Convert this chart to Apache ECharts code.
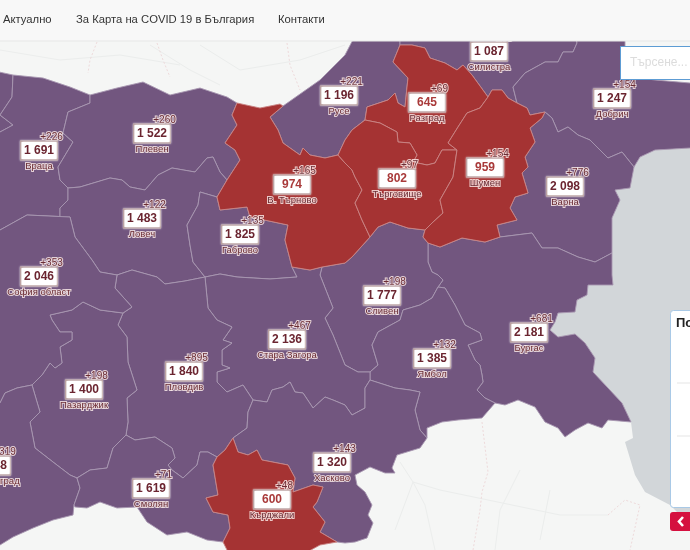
<!DOCTYPE html>
<html><head><meta charset="utf-8">
<style>html,body{margin:0;padding:0;background:#f5f6f5;overflow:hidden}#c{width:690px;height:550px;filter:blur(.45px)}</style>
<script src="https://cdn.jsdelivr.net/npm/echarts@6/dist/echarts.min.js"></script>
</head><body><div id="c"></div>
<script>
// ---- chart values ----
const regionNames = ['Враца','Плевен','Ловеч','Габрово','София област','В. Търново','Русе','Разград','Търговище','Шумен','Силистра','Добрич','Варна','Сливен','Бургас','Ямбол','Стара Загора','Пловдив','Пазарджик','Смолян','Кърджали','Хасково','Благоевград'];
const totals = [1691,1522,1483,1825,2046,974,1196,645,802,959,1087,1247,2098,1777,2181,1385,2136,1840,1400,1619,600,1320,1748];
const increments = [226,260,122,135,353,165,221,69,97,154,103,154,776,198,681,132,467,895,198,71,48,143,319];
// ---- threshold that splits the two map colours ----
const redBelow = 1000;
// ---- label anchors (map units) ----
const labelAnchors = [[39,153],[152,136],[142,221],[240,237],[39,279],[292,187],[339,98],[427,105],[397,181],[485,170],[489,54],[612,101],[565,189],[382,298],[529,335],[432,361],[287,342],[184,374],[84,392],[151,491],[272,502],[332,465],[-8,468]];
// ---- region outlines (map units) ----
const outlines = {
 'Монтана':[[-10,70],[13,75],[12,97],[0,115],[13,125],[0,132],[-10,132]],
 'Враца':[[13,75],[43,78],[70,87],[90,95],[90,103],[68,112],[63,133],[73,142],[58,167],[60,180],[68,188],[68,200],[60,208],[60,217],[70,217],[27,215],[0,230],[-10,232],[-10,132],[0,132],[13,125],[0,115],[12,97]],
 'Плевен':[[90,95],[117,88],[143,82],[170,95],[200,88],[227,97],[237,103],[232,115],[237,125],[225,143],[235,150],[240,160],[227,180],[220,172],[213,157],[207,158],[195,172],[172,168],[158,175],[145,190],[130,187],[122,180],[110,178],[80,187],[68,188],[60,180],[58,167],[73,142],[63,133],[68,112],[90,103]],
 'Ловеч':[[68,188],[80,187],[110,178],[122,180],[130,187],[145,190],[158,175],[172,168],[195,172],[207,158],[213,157],[220,172],[227,180],[217,197],[200,192],[198,205],[187,225],[190,245],[193,262],[205,277],[185,281],[165,284],[157,277],[132,270],[117,275],[100,272],[92,260],[75,237],[70,217],[60,217],[60,208],[68,200]],
 'Габрово':[[217,197],[220,210],[247,207],[250,217],[288,225],[285,240],[292,267],[297,277],[270,279],[237,277],[220,274],[205,277],[193,262],[190,245],[187,225],[198,205],[200,192]],
 'Русе':[[283,106],[320,80],[345,55],[358,30],[400,30],[400,45],[393,62],[408,78],[407,87],[405,107],[398,103],[395,93],[388,100],[367,107],[365,120],[352,130],[345,140],[338,155],[325,158],[310,155],[303,148],[300,155],[283,143],[278,130],[270,117]],
 'Силистра':[[400,45],[400,30],[575,30],[577,43],[573,52],[563,52],[558,62],[545,62],[525,73],[513,87],[517,103],[508,98],[502,90],[492,90],[488,97],[472,75],[463,65],[457,70],[445,63],[430,58],[425,48],[412,45]],
 'Добрич':[[575,30],[625,30],[625,62],[640,78],[655,80],[690,83],[700,84],[700,148],[690,148],[655,150],[640,157],[634,167],[622,152],[608,158],[590,140],[578,135],[568,127],[558,132],[552,118],[545,112],[530,115],[527,108],[517,103],[513,87],[525,73],[545,62],[558,62],[563,52],[573,52],[577,43]],
 'Варна':[[545,112],[552,118],[558,132],[568,127],[578,135],[590,140],[608,158],[622,152],[634,167],[630,188],[615,190],[620,200],[612,218],[612,253],[595,262],[578,257],[558,248],[542,248],[532,233],[500,237],[497,225],[517,220],[510,208],[515,197],[528,193],[522,173],[528,167],[525,157],[535,142],[530,128],[542,118]],
 'Бургас':[[428,243],[440,247],[462,238],[485,242],[500,237],[532,233],[542,248],[558,248],[578,257],[595,262],[612,253],[612,275],[613,285],[588,285],[587,295],[577,300],[575,312],[558,313],[555,322],[550,330],[558,337],[575,334],[585,343],[595,358],[593,372],[608,388],[622,403],[631,422],[608,420],[602,428],[588,423],[575,430],[565,437],[558,428],[545,422],[535,407],[518,400],[505,405],[495,403],[485,398],[477,390],[483,382],[482,375],[480,365],[475,360],[468,345],[482,340],[480,333],[465,325],[455,305],[445,288],[438,287],[443,280],[438,275],[432,272],[428,262]],
 'Сливен':[[322,267],[345,263],[352,257],[370,237],[378,227],[390,222],[408,228],[425,230],[423,237],[428,243],[428,262],[432,272],[438,275],[443,280],[438,287],[432,298],[420,305],[403,310],[400,320],[378,332],[372,345],[378,365],[370,372],[358,372],[345,365],[333,335],[325,318],[333,308],[320,275]],
 'Ямбол':[[370,372],[378,365],[372,345],[378,332],[400,320],[403,310],[420,305],[432,298],[438,287],[445,288],[455,305],[465,325],[480,333],[482,340],[468,345],[475,360],[480,365],[482,375],[483,382],[477,390],[485,398],[495,403],[482,418],[458,420],[442,422],[427,428],[427,438],[420,430],[415,410],[420,392],[410,390],[395,388],[370,380]],
 'Стара Загора':[[205,277],[220,274],[237,277],[270,279],[297,277],[292,267],[310,270],[322,267],[320,275],[333,308],[325,318],[333,335],[345,365],[358,372],[370,372],[370,380],[365,388],[365,408],[352,415],[345,405],[333,400],[325,397],[313,408],[303,393],[295,392],[290,382],[283,387],[272,390],[267,402],[253,400],[243,385],[227,392],[217,382],[217,372],[230,368],[222,365],[222,350],[232,343],[223,340],[232,327],[217,320],[208,308]],
 'Пловдив':[[117,275],[132,270],[157,277],[165,284],[185,281],[205,277],[208,308],[217,320],[232,327],[223,340],[232,343],[222,350],[222,365],[230,368],[217,372],[217,382],[227,392],[243,385],[253,400],[248,412],[247,428],[233,438],[225,450],[217,457],[208,452],[200,452],[197,465],[183,478],[172,470],[168,465],[175,458],[172,448],[155,437],[135,440],[126,435],[128,422],[127,398],[137,390],[128,362],[127,337],[118,325],[123,313],[132,307],[115,288]],
 'Пазарджик':[[123,313],[100,310],[83,302],[72,310],[50,315],[52,320],[60,332],[72,332],[72,340],[60,347],[62,363],[55,368],[50,363],[42,375],[32,385],[37,402],[40,412],[30,422],[35,448],[53,462],[70,475],[77,478],[90,470],[107,468],[113,448],[126,435],[128,422],[127,398],[137,390],[128,362],[127,337],[118,325]],
 'София област':[[-10,232],[0,230],[27,215],[70,217],[75,237],[92,260],[100,272],[117,275],[115,288],[132,307],[123,313],[100,310],[83,302],[72,310],[50,315],[52,320],[60,332],[72,332],[72,340],[60,347],[62,363],[55,368],[50,363],[42,375],[32,385],[17,388],[5,393],[0,403],[-10,410]],
 'Благоевград':[[-10,410],[0,403],[5,393],[17,388],[32,385],[37,402],[40,412],[30,422],[35,448],[53,462],[70,475],[77,478],[80,488],[74,505],[73,515],[53,520],[33,528],[13,537],[0,545],[-10,550]],
 'Смолян':[[77,478],[90,470],[107,468],[113,448],[126,435],[135,440],[155,437],[172,448],[175,458],[168,465],[172,470],[183,478],[197,465],[200,452],[208,452],[217,457],[213,465],[218,495],[206,498],[213,512],[228,515],[230,528],[223,542],[207,540],[187,532],[167,535],[147,522],[137,507],[117,508],[100,502],[87,508],[75,507],[74,505],[80,488]],
 'Хасково':[[253,400],[267,402],[272,390],[283,387],[290,382],[295,392],[303,393],[313,408],[325,397],[333,400],[345,405],[352,415],[365,408],[365,388],[370,380],[395,388],[410,390],[420,392],[415,410],[420,430],[427,438],[420,448],[397,455],[392,468],[395,473],[385,473],[370,467],[355,475],[357,485],[365,492],[372,505],[368,515],[373,523],[367,538],[355,542],[345,543],[337,542],[320,532],[325,522],[313,507],[317,502],[323,487],[313,485],[293,492],[295,478],[288,465],[262,460],[257,450],[248,455],[238,452],[233,438],[247,428],[248,412]],
 'В. Търново':[[237,103],[260,108],[280,104],[283,106],[270,117],[278,130],[283,143],[300,155],[303,148],[310,155],[325,158],[338,155],[345,163],[352,170],[355,177],[362,190],[355,203],[362,220],[370,237],[352,257],[345,263],[322,267],[310,270],[292,267],[285,240],[288,225],[250,217],[247,207],[220,210],[217,197],[227,180],[240,160],[235,150],[225,143],[237,125],[232,115]],
 'Разград':[[400,45],[412,45],[425,48],[430,58],[445,63],[457,70],[463,65],[472,75],[488,97],[480,108],[467,113],[458,127],[448,143],[457,150],[442,150],[435,163],[427,165],[413,162],[417,155],[410,143],[398,142],[397,132],[380,123],[365,120],[367,107],[388,100],[395,93],[398,103],[405,107],[407,87],[408,78],[393,62]],
 'Търговище':[[338,155],[345,140],[352,130],[365,120],[380,123],[397,132],[398,142],[410,143],[417,155],[413,162],[427,165],[435,163],[442,150],[457,150],[453,177],[440,200],[443,213],[432,223],[425,230],[408,228],[390,222],[378,227],[370,237],[362,220],[355,203],[362,190],[355,177],[352,170],[345,163]],
 'Шумен':[[488,97],[492,90],[502,90],[508,98],[517,103],[527,108],[530,115],[545,112],[542,118],[530,128],[535,142],[525,157],[528,167],[522,173],[528,193],[515,197],[510,208],[517,220],[497,225],[500,237],[485,242],[462,238],[440,247],[428,243],[423,237],[425,230],[432,223],[443,213],[440,200],[453,177],[457,150],[448,143],[458,127],[467,113],[480,108]],
 'Кърджали':[[217,457],[225,450],[233,438],[238,452],[248,455],[257,450],[262,460],[288,465],[295,478],[293,492],[313,485],[323,487],[317,502],[313,507],[325,522],[320,532],[337,542],[320,545],[300,556],[230,556],[223,542],[230,528],[228,515],[213,512],[206,498],[218,495],[213,465]]
};
// ---- page chrome and basemap ----
const navItems = [['Актуално',3],['За Карта на COVID 19 в България',76],['Контакти',278]];
const searchHint = 'Търсене...';
const panelTitle = 'По';
const seaOutline = [[700,148],[690,148],[655,150],[640,157],[634,167],[630,188],[615,190],[620,200],[612,218],[612,253],[612,275],[613,285],[588,285],[587,295],[577,300],[575,312],[558,313],[555,322],[550,330],[558,337],[575,334],[585,343],[595,358],[593,372],[608,388],[622,403],[631,422],[633,438],[625,442],[635,475],[645,492],[670,505],[690,525],[700,530]];
const faintLines = [[[413,482],[440,490],[512,505],[560,515],[608,515]],[[520,470],[500,510],[495,550]],[[413,482],[425,505],[435,550]],[[550,490],[540,540]],[[400,462],[413,482],[395,530]],[[0,50],[60,60],[120,55],[180,65]],[[200,45],[240,70],[300,60],[345,45]],[[150,45],[190,70],[220,85]]];
const faintBorders = [[[97,42],[90,60],[88,73]],[[157,43],[163,60],[170,77]],[[287,43],[290,65],[300,90]],[[482,422],[488,472],[482,492],[480,510],[473,550]],[[608,515],[625,500],[640,505],[630,550]]];

const features = Object.keys(outlines).map(name => {
  const i = regionNames.indexOf(name);
  return {type:'Feature',
    properties:{name, cp: i>=0 ? [labelAnchors[i][0], -labelAnchors[i][1]] : undefined},
    geometry:{type:'Polygon',coordinates:[outlines[name].concat([outlines[name][0]]).map(p=>[p[0],-p[1]])]}};
});
echarts.registerMap('bg',{type:'FeatureCollection',features});

const fmt = v => String(v).replace(/\B(?=(\d{3})+$)/g,' ');
const FONT = '"Liberation Sans", Arial, sans-serif';
const halo = {textBorderColor:'rgba(255,240,238,.8)',textBorderWidth:2,fontFamily:FONT};
const boxStyle = {width:33,height:15,align:'center',backgroundColor:'#fff',borderColor:'#b79c9c',borderWidth:1.5,padding:[1,1,1,1],fontFamily:FONT,fontWeight:'bold',fontSize:12,lineHeight:18,shadowColor:'#fff',shadowBlur:2};

const lineOnPurple = '#a897b1', lineOnRed = '#c98585';
const mapData = regionNames.map((n,i)=>({name:n,value:totals[i],itemStyle:{borderColor:totals[i]<redBelow?lineOnRed:lineOnPurple}}));
mapData.push({name:'Монтана',value:1500,label:{show:false},itemStyle:{borderColor:lineOnPurple}});

const chrome = [];
chrome.push({type:'polygon',z:1,silent:true,shape:{points:seaOutline},style:{fill:'#d2d6d9'}});
faintLines.forEach(l=>chrome.push({type:'polyline',z:1,silent:true,shape:{points:l},style:{fill:null,stroke:'#ebedec',lineWidth:1}}));
faintBorders.forEach(l=>chrome.push({type:'polyline',z:1,silent:true,shape:{points:l},style:{fill:null,stroke:'#eedadb',lineWidth:1,lineDash:[2,2]}}));
const zTop = 100;
chrome.push({type:'rect',z:zTop,silent:true,shape:{x:-2,y:-2,width:694,height:43},style:{fill:'#f8f8f8',stroke:'#e7e7e7',lineWidth:1}});
navItems.forEach(n=>chrome.push({type:'text',z:zTop+1,silent:true,x:n[1],y:20,style:{text:n[0],font:'11.25px '+FONT,fill:'#333',textVerticalAlign:'middle'}}));
chrome.push({type:'rect',z:zTop,silent:true,shape:{x:620.5,y:46.5,width:80,height:33},style:{fill:'#fff',stroke:'#5d9cd4',lineWidth:1}});
chrome.push({type:'text',z:zTop+1,silent:true,x:630,y:63,style:{text:searchHint,font:'12px '+FONT,fill:'#dcdcdc',textVerticalAlign:'middle'}});
chrome.push({type:'rect',z:zTop,silent:true,shape:{x:670.5,y:310.5,width:40,height:197,r:3},style:{fill:'#fff',stroke:'#a9c9e6',lineWidth:1}});
chrome.push({type:'text',z:zTop+1,silent:true,x:676,y:323,style:{text:panelTitle,font:'bold 13px '+FONT,fill:'#222',textVerticalAlign:'middle'}});
[383,436].forEach(y=>chrome.push({type:'line',z:zTop+1,silent:true,shape:{x1:677,y1:y,x2:690,y2:y},style:{stroke:'#e5e5e5',lineWidth:1}}));
chrome.push({type:'rect',z:zTop,silent:true,shape:{x:670,y:512,width:40,height:19,r:3},style:{fill:'#d5103f'}});
chrome.push({type:'polyline',z:zTop+1,silent:true,shape:{points:[[683,517],[679,521.5],[683,526]]},style:{fill:null,stroke:'#fff',lineWidth:2.6}});

const chart = echarts.init(document.getElementById('c'),null,{width:690,height:550});
chart.setOption({
  backgroundColor:'#f5f6f5',
  animation:false,
  graphic:{elements:chrome},
  visualMap:{show:false,type:'piecewise',seriesIndex:0,pieces:[{lt:redBelow,color:'#a53333'},{gte:redBelow,color:'#72567f'}]},
  series:[{
    type:'map',map:'bg',roam:false,silent:true,
    aspectScale:1,
    boundingCoords:[[0,0],[690,-550]],
    layoutCenter:['50%','50%'],layoutSize:690,
    itemStyle:{borderColor:lineOnPurple,borderWidth:.9},
    data:mapData,
    label:{show:true,position:'inside',
      formatter:p=>{
        const i=regionNames.indexOf(p.name);
        const k=totals[i]<redBelow?'r':'n';
        return `{p|+${increments[i]}}\n{${k}|${fmt(totals[i])}}\n{t|${p.name}}`;
      },
      rich:{
        p:Object.assign({fontSize:10,lineHeight:9,color:'#6b2d35',align:'center',padding:[0,0,0,25]},halo),
        n:Object.assign({color:'#6b2530'},boxStyle),
        r:Object.assign({color:'#a93a3a'},boxStyle),
        t:Object.assign({fontSize:9.5,lineHeight:14,color:'#6b2d35',align:'center'},halo)
      }
    }
  }]
});
</script></body></html>
